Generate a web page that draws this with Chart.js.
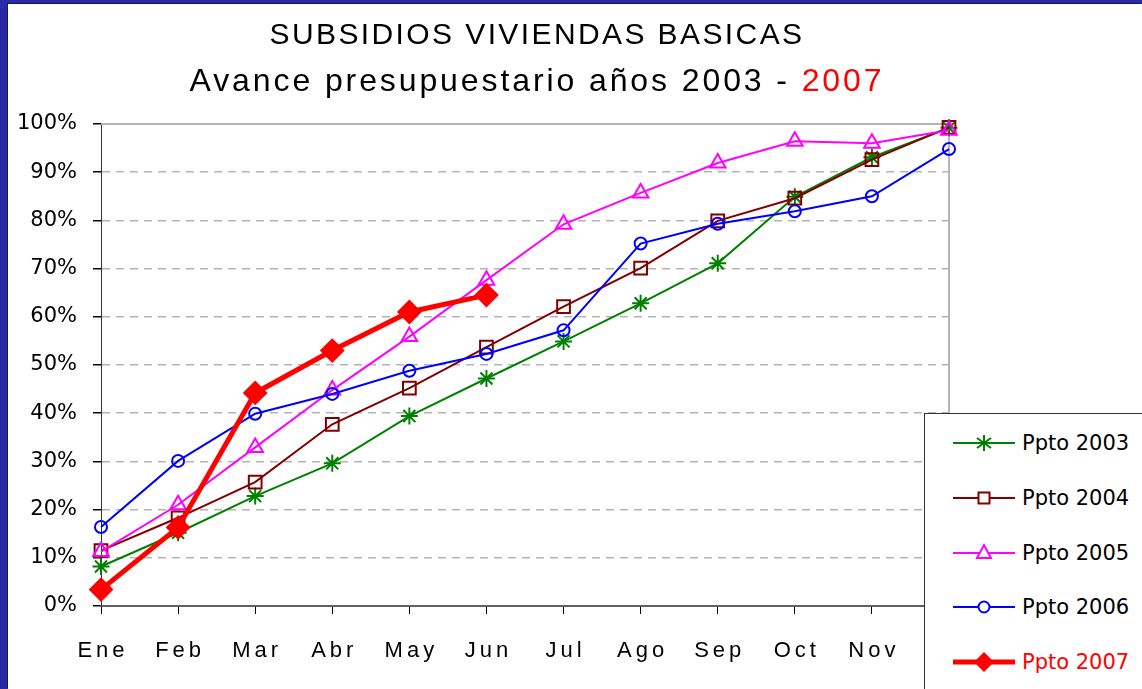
<!DOCTYPE html>
<html>
<head>
<meta charset="utf-8">
<script src="https://cdn.jsdelivr.net/npm/chart.js@4.4.1/dist/chart.umd.min.js"></script>
<style>
    body { margin: 0; width: 1142px; height: 689px; overflow: hidden; position: relative; background: #2a2aa6; font-family: "Liberation Sans", Arial, sans-serif; }
    #panel { position: absolute; left: 8px; top: 4px; width: 1134px; height: 685px; background: #fff; box-shadow: -1px -1px 0 #15155a; }
    #grafico { position: absolute; left: 0; top: 0; }
    .titulo { position: absolute; left: 0; width: 1058px; text-align: center; white-space: nowrap; color: #000; }
    #t1 { top: 15px; font-size: 30px; line-height: 30px; letter-spacing: 2.4px; }
    #t2 { top: 60px; font-size: 32px; line-height: 32px; letter-spacing: 2.9px; }
    #t2 span { color: #ff0000; }
    #leyenda { position: absolute; left: 916px; top: 409px; width: 240px; height: 300px; background: #fff; border: 1px solid #333; }
    .item { position: absolute; left: 28px; height: 30px; display: flex; align-items: center; font-family: "DejaVu Sans", sans-serif; font-size: 21px; color: #000; }
    .item svg { margin-right: 7px; }
</style>
</head>
<body>
<div id="panel">
    <canvas id="grafico" width="1134" height="685"></canvas>
    <div class="titulo" id="t1">SUBSIDIOS VIVIENDAS BASICAS</div>
    <div class="titulo" id="t2">Avance presupuestario años 2003 - <span>2007</span></div>
    <div id="leyenda"></div>
</div>
<script>
// Datos (% de avance acumulado)
const meses = ['Ene', 'Feb', 'Mar', 'Abr', 'May', 'Jun', 'Jul', 'Ago', 'Sep', 'Oct', 'Nov', 'Dic'];
const ppto2003 = [8.2, 15.2, 22.8, 29.6, 39.4, 47.2, 54.9, 62.8, 71.1, 84.9, 93.1, 99.2];
const ppto2004 = [11.5, 18.3, 25.7, 37.7, 45.2, 53.7, 62.1, 70.1, 79.9, 84.6, 92.6, 99.3];
const ppto2005 = [11.3, 21.0, 32.9, 44.8, 55.9, 67.6, 79.2, 85.7, 91.9, 96.4, 96.0, 98.7];
const ppto2006 = [16.4, 30.1, 39.9, 44.0, 48.8, 52.3, 57.2, 75.2, 79.3, 81.9, 85.0, 94.8];
const ppto2007 = [3.4, 16.3, 44.2, 53.0, 61.0, 64.5];
const nombres = ['Ppto 2003', 'Ppto 2004', 'Ppto 2005', 'Ppto 2006', 'Ppto 2007'];

const serie = (label, data, color, estilo, radio, ancho, orden, relleno) => ({
    label: label,
    data: data,
    borderColor: color,
    borderWidth: ancho,
    pointStyle: estilo,
    pointRadius: radio,
    pointHoverRadius: radio,
    pointBorderColor: color,
    pointBorderWidth: 2,
    pointBackgroundColor: relleno ? color : 'rgba(0,0,0,0)',
    tension: 0,
    clip: false,
    order: orden
});

const datasets = [
    serie(nombres[0], ppto2003, '#008000', 'star', 8.5, 2, 4, false),
    serie(nombres[1], ppto2004, '#800000', 'rect', 9, 2, 3, false),
    serie(nombres[2], ppto2005, '#ff00ff', 'triangle', 9, 2, 2, false),
    serie(nombres[3], ppto2006, '#0000ff', 'circle', 6, 2, 1, false),
    serie(nombres[4], ppto2007, '#ff0000', 'rectRot', 11, 5, 0, true)
];

// marco gris arriba y a la derecha del area del grafico
const marco = {
    id: 'marco',
    beforeDatasetsDraw(chart) {
        const { ctx, chartArea: a } = chart;
        ctx.save();
        ctx.strokeStyle = '#b4b4b4';
        ctx.lineWidth = 2;
        ctx.beginPath();
        ctx.moveTo(a.left, a.top);
        ctx.lineTo(a.right, a.top);
        ctx.lineTo(a.right, a.bottom);
        ctx.stroke();
        ctx.restore();
    }
};

// etiquetas del eje x con letras espaciadas
const espaciado = {
    id: 'espaciado',
    afterUpdate(chart) {
        const x = chart.scales.x;
        if (x._espaciado) return;
        const original = x.drawLabels;
        x.drawLabels = function (area) {
            this.ctx.save();
            this.ctx.letterSpacing = '4px';
            this.ctx.translate(2, 0);
            original.call(this, area);
            this.ctx.restore();
        };
        x._espaciado = true;
    }
};

new Chart(document.getElementById('grafico'), {
    type: 'line',
    data: { labels: meses, datasets: datasets },
    options: {
        responsive: false,
        animation: false,
        layout: { padding: { top: 120, right: 193, bottom: 0, left: 0 } },
        plugins: { legend: { display: false }, title: { display: false }, tooltip: { enabled: false } },
        scales: {
            x: {
                offset: false,
                afterFit: (s) => { s.height = 83; },
                grid: { drawOnChartArea: false, tickLength: 8, tickColor: '#000' },
                border: { color: '#606060', width: 2 },
                ticks: { autoSkip: false, maxRotation: 0, padding: 24, color: '#000', font: { family: 'Liberation Sans', size: 22 } }
            },
            y: {
                min: 0,
                max: 100,
                afterFit: (s) => { s.width = 93; },
                grid: { color: '#b4b4b4', lineWidth: 1.5, tickLength: 8, tickColor: '#000' },
                border: { color: '#333', width: 1, dash: [8, 6] },
                ticks: { stepSize: 10, padding: 16, color: '#000', font: { family: 'DejaVu Sans', size: 21 }, callback: (v) => v + '%' }
            }
        }
    },
    plugins: [marco, espaciado]
});

// leyenda en html, encima del grafico como en el original
const muestras = [
    '<path d="M31 5v16M24 8l14 10M38 8l-14 10" stroke="#008000" stroke-width="2" fill="none"/>',
    '<rect x="25.5" y="7.5" width="11" height="11" stroke="#800000" stroke-width="2" fill="#fff"/>',
    '<polygon points="31,5 38,18 24,18" stroke="#ff00ff" stroke-width="2" fill="#fff"/>',
    '<circle cx="31" cy="13" r="5.5" stroke="#0000ff" stroke-width="2" fill="#fff"/>',
    '<polygon points="31,3 41,13 31,23 21,13" fill="#ff0000"/>'
];
const leyenda = document.getElementById('leyenda');
const filas = [29, 84, 139, 193, 248];
datasets.forEach((ds, i) => {
    const item = document.createElement('div');
    item.className = 'item';
    item.style.top = (filas[i] - 15) + 'px';
    item.style.color = i === 4 ? '#ff0000' : '#000';
    item.innerHTML = `<svg width="62" height="26"><line x1="0" y1="13" x2="62" y2="13" stroke="${ds.borderColor}" stroke-width="${ds.borderWidth}"/>${muestras[i]}</svg>${ds.label}`;
    leyenda.appendChild(item);
});
</script>
</body>
</html>
